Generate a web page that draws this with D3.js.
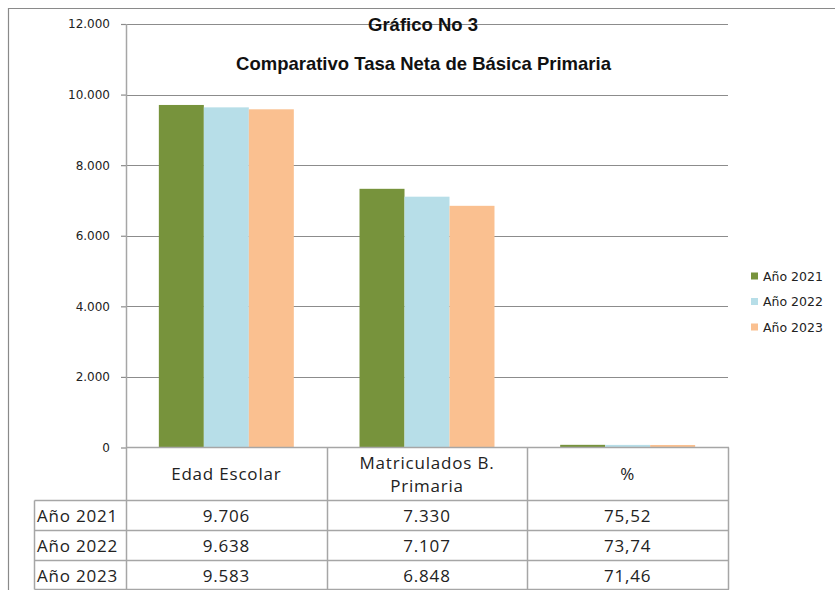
<!DOCTYPE html>
<html><head><meta charset="utf-8">
<script src="https://cdn.jsdelivr.net/npm/d3@7"></script>
<style>
html,body{margin:0;padding:0;background:#fff;}
svg{display:block;}
</style></head>
<body>
<svg id="chart" width="835" height="590"></svg>
<script>
const categories = ["Edad Escolar", "Matriculados B. Primaria", "%"];
const categoryLines = [["Edad Escolar"], ["Matriculados B.", "Primaria"], ["%"]];
const seriesNames = ["Año 2021", "Año 2022", "Año 2023"];
const values2021 = [9706, 7330, 75.52];
const values2022 = [9638, 7107, 73.74];
const values2023 = [9583, 6848, 71.46];
const seriesColors = ["#77933C", "#B7DEE8", "#FAC090"];
const yTicks = [0, 2000, 4000, 6000, 8000, 10000, 12000];
const titleText = "Gráfico No 3";
const subtitleText = "Comparativo Tasa Neta de Básica Primaria";

const seriesValues = [values2021, values2022, values2023];
const locale = d3.formatLocale({decimal: ",", thousands: ".", grouping: [3], currency: ["$", ""]});
const fmtInt = locale.format(",.0f");
const fmtDec = locale.format(",.2f");
const cellFormat = [fmtInt, fmtInt, fmtDec];

const svg = d3.select("#chart");
const W = 835, H = 590;
const plot = {left: 126, right: 728, top: 24, bottom: 447.5};
const gridColor = "#8c8c8c";
const tableColor = "#a6a6a6";

// outer frame
svg.append("path").attr("d", `M8.5,${H + 5} V8.5 H${W + 5}`)
  .attr("fill", "none").attr("stroke", "#8a8a8a").attr("stroke-width", 1.2);

const y = d3.scaleLinear().domain([0, 12000]).range([plot.bottom, plot.top]);
const x0 = d3.scaleBand().domain(categories).range([plot.left, plot.right]).paddingInner(0).paddingOuter(0);
const x1 = d3.scaleBand().domain(seriesNames).range([0, x0.bandwidth()]).paddingInner(0).paddingOuter(0.73);

// gridlines
svg.append("g").selectAll("line").data(yTicks.filter(t => t > 0)).join("line")
  .attr("x1", plot.left).attr("x2", plot.right)
  .attr("y1", d => Math.round(y(d)) + 0.5).attr("y2", d => Math.round(y(d)) + 0.5)
  .attr("stroke", gridColor).attr("stroke-width", 1.2);

// y axis
const yAxis = d3.axisLeft(y).tickValues(yTicks).tickSize(5).tickPadding(11).tickFormat(d => fmtInt(d));
const gy = svg.append("g").attr("transform", `translate(${plot.left},0)`).call(yAxis);
gy.select(".domain").remove();
gy.selectAll(".tick line").attr("stroke", gridColor).attr("stroke-width", 1.2);
gy.selectAll(".tick text").attr("font-family", "DejaVu Sans").attr("font-size", 12).attr("fill", "#222");

// bars
const groups = svg.append("g").selectAll("g").data(categories).join("g")
  .attr("transform", d => `translate(${x0(d)},0)`);
groups.selectAll("rect").data((c, i) => seriesNames.map((s, j) => ({s, j, v: seriesValues[j][i]}))).join("rect")
  .attr("x", d => x1(d.s)).attr("width", x1.bandwidth())
  .attr("y", d => y(d.v)).attr("height", d => y(0) - y(d.v))
  .attr("fill", d => seriesColors[d.j]);

// titles
svg.append("text").attr("x", 423).attr("y", 30.5).attr("text-anchor", "middle")
  .attr("font-family", "Liberation Sans, Arial").attr("font-weight", "bold").attr("font-size", 18.5)
  .attr("fill", "#111").text(titleText);
svg.append("text").attr("x", 423.5).attr("y", 70).attr("text-anchor", "middle")
  .attr("font-family", "Liberation Sans, Arial").attr("font-weight", "bold").attr("font-size", 18.5)
  .attr("fill", "#111").text(subtitleText);

// data table
const tbl = svg.append("g");
const rowTop = 500.5, rowH = 30, labelLeft = 34.5;
const tableBottom = rowTop + rowH * 3 - 1;
tbl.append("line").attr("x1", plot.left + 0.5).attr("x2", plot.left + 0.5).attr("y1", plot.top).attr("y2", H)
  .attr("stroke", tableColor).attr("stroke-width", 1.5);
categories.forEach(c => {
  const xr = Math.round(x0(c) + x0.bandwidth()) + 0.5;
  tbl.append("line").attr("x1", xr).attr("x2", xr).attr("y1", plot.bottom).attr("y2", tableBottom)
    .attr("stroke", tableColor).attr("stroke-width", 1.5);
});
tbl.append("line").attr("x1", labelLeft).attr("x2", labelLeft).attr("y1", rowTop).attr("y2", tableBottom)
  .attr("stroke", tableColor).attr("stroke-width", 1.5);
tbl.append("line").attr("x1", plot.left).attr("x2", plot.right + 1).attr("y1", plot.bottom).attr("y2", plot.bottom)
  .attr("stroke", tableColor).attr("stroke-width", 1.5);
[0, 1, 2, 3].forEach(i => {
  const yy = rowTop + rowH * i - (i === 3 ? 1 : 0);
  tbl.append("line").attr("x1", labelLeft).attr("x2", plot.right + 1).attr("y1", yy).attr("y2", yy)
    .attr("stroke", tableColor).attr("stroke-width", 1.5);
});

const tableFont = "'Open Sans', Lato, sans-serif";
const tableSize = 17;
const tableSpacing = 0.8;
categories.forEach((c, i) => {
  const lines = categoryLines[i];
  const cx = x0(c) + x0.bandwidth() / 2;
  const midY = (plot.bottom + rowTop) / 2;
  const lh = 23;
  const t = tbl.append("text").attr("text-anchor", "middle").attr("font-family", tableFont)
    .attr("font-size", tableSize).attr("letter-spacing", tableSpacing).attr("fill", "#222");
  lines.forEach((ln, k) => {
    t.append("tspan").attr("x", cx)
      .attr("y", midY + 6 + (k - (lines.length - 1) / 2) * lh).text(ln);
  });
});
seriesNames.forEach((s, j) => {
  const cy = rowTop + rowH * j + rowH / 2 + 6;
  tbl.append("text").attr("x", 37).attr("y", cy).attr("font-family", tableFont)
    .attr("font-size", tableSize).attr("letter-spacing", tableSpacing).attr("fill", "#222").text(s);
  categories.forEach((c, i) => {
    tbl.append("text").attr("x", x0(c) + x0.bandwidth() / 2).attr("y", cy).attr("text-anchor", "middle")
      .attr("font-family", tableFont).attr("font-size", tableSize).attr("letter-spacing", tableSpacing)
      .attr("fill", "#222")
      .text(cellFormat[i](seriesValues[j][i]));
  });
});

// legend
const leg = svg.append("g");
seriesNames.forEach((s, j) => {
  const cy = 276 + j * 25.5;
  leg.append("rect").attr("x", 751).attr("y", cy - 3.5).attr("width", 7).attr("height", 7).attr("fill", seriesColors[j]);
  leg.append("text").attr("x", 763).attr("y", cy + 4.5).attr("font-family", "DejaVu Sans")
    .attr("font-size", 12.5).attr("fill", "#222").text(s);
});
</script>
</body></html>
